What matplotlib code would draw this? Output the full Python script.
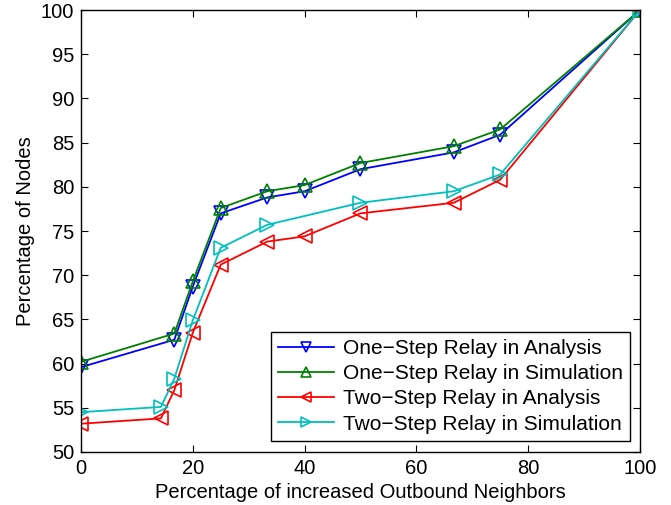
import numpy as np
import matplotlib
matplotlib.use("Agg")
import matplotlib.pyplot as plt

plt.rcParams['font.family'] = ['Liberation Sans', 'DejaVu Sans']

# data
x_one = [0, 16.7, 20, 25, 33.3, 40, 50, 66.7, 75, 100]
one_analysis = [59.6, 62.7, 68.7, 77.0, 78.8, 79.5, 82.0, 83.9, 85.9, 100]
one_simulation = [60.2, 63.4, 69.3, 77.6, 79.5, 80.2, 82.7, 84.6, 86.5, 100]

x_two_ana = [0, 14.3, 16.7, 20, 25, 33.3, 40, 50, 66.7, 75, 100]
two_analysis = [53.2, 53.8, 57.0, 63.5, 71.2, 73.8, 74.4, 77.0, 78.2, 80.8, 100]

x_two_sim = [0, 14.3, 16.7, 20, 25, 33.3, 50, 66.7, 75, 100]
two_simulation = [54.5, 55.1, 58.3, 64.9, 73.1, 75.7, 78.2, 79.5, 81.4, 100]

labels = ["One\u2212Step Relay in Analysis", "One\u2212Step Relay in Simulation",
          "Two\u2212Step Relay in Analysis", "Two\u2212Step Relay in Simulation"]

fig = plt.figure(figsize=(6.71, 5.05), dpi=100)
ax = fig.add_axes([0.1207, 0.105, 0.833, 0.875])

style = dict(lw=1.3, ms=10, mfc='none', mew=1.2)
ax.plot(x_one, one_analysis, color=(0, 0, 1), marker='v', label=labels[0], **style)
ax.plot(x_one, one_simulation, color=(0, 0.5, 0), marker='^', label=labels[1], **style)
ax.plot(x_two_ana, two_analysis, color=(1, 0, 0), marker='<', label=labels[2], **style)
ax.plot(x_two_sim, two_simulation, color=(0, 0.75, 0.75), marker='>', label=labels[3], **style)

fs = 14.5
ax.set_xlim(0, 100)
ax.set_ylim(50, 100)
ax.set_xticks(np.arange(0, 101, 20))
ax.set_yticks(np.arange(50, 101, 5))
ax.tick_params(direction='in', top=True, right=True, labelsize=fs, length=5, pad=5)
for s in ax.spines.values():
    s.set_linewidth(1.0)

ax.set_xlabel("Percentage of increased Outbound Neighbors", fontsize=fs, labelpad=4)
ax.set_ylabel("Percentage of Nodes", fontsize=fs, labelpad=4)

leg = ax.legend(loc='lower right', bbox_to_anchor=(0.982, 0.025), fontsize=15,
                fancybox=False, edgecolor='black', framealpha=1, handlelength=2.7,
                markerscale=0.75, labelspacing=0.3, borderpad=0.35,
                handletextpad=0.4, borderaxespad=0)
leg.get_frame().set_linewidth(1.0)

fig.savefig("out.png", dpi=100)
